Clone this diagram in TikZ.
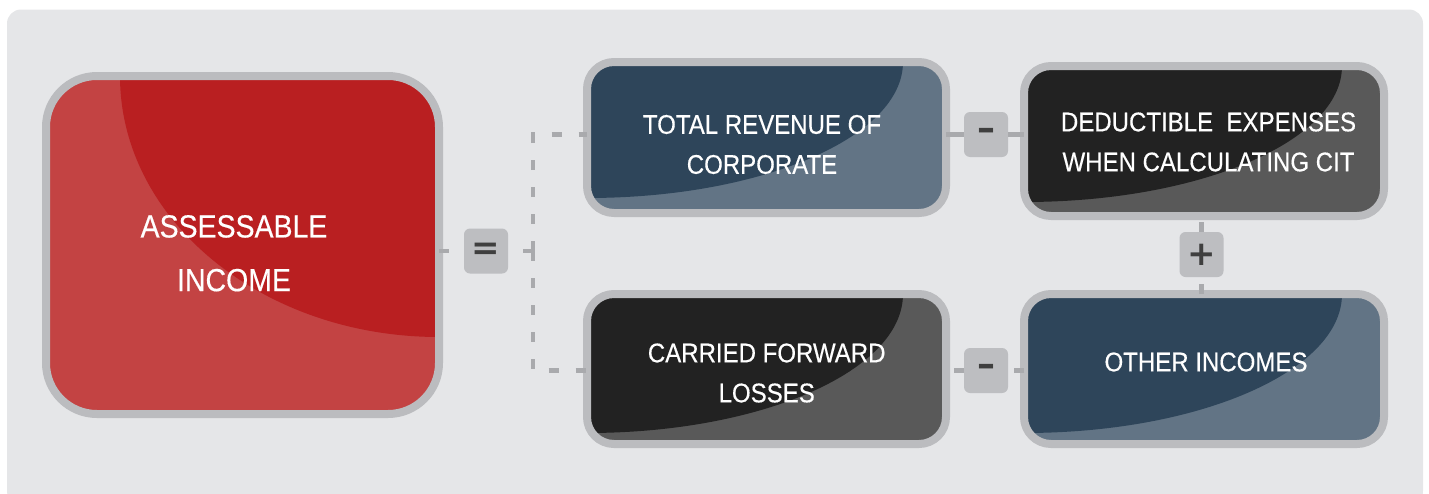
\documentclass[tikz,border=0pt]{standalone}
\usepackage{fontspec}
\setmainfont[FakeStretch=0.89, FakeBold=0.35]{Liberation Sans}
\newfontfamily\opfont{DejaVu Sans}
\usetikzlibrary{calc}

\definecolor{panelgray}{HTML}{E5E6E8}
\definecolor{rimgray}{HTML}{BBBCBF}
\definecolor{opgray}{HTML}{BDBEC1}
\definecolor{opsign}{HTML}{3F3F3F}
\definecolor{linkgray}{HTML}{A9AAAD}
\definecolor{reddark}{HTML}{B91F21}
\definecolor{redlight}{HTML}{C34343}
\definecolor{navydark}{HTML}{2E455A}
\definecolor{navylight}{HTML}{627485}
\definecolor{inkdark}{HTML}{222222}
\definecolor{inklight}{HTML}{595959}

\tikzset{
  card/.style={draw=rimgray, line width=8pt, inner sep=0pt, outer sep=0pt,
    rounded corners=27pt},
  % light base colour, darker sweep centred on one corner
  sweepNW/.style n args={4}{fill=#2, path picture={
      \fill[#1] (path picture bounding box.north west)
        ellipse [x radius=#3, y radius=#4];}},
  sweepNE/.style n args={4}{fill=#2, path picture={
      \fill[#1] (path picture bounding box.north east)
        ellipse [x radius=#3, y radius=#4];}},
  opbox/.style={fill=opgray, rounded corners=6pt, inner sep=0pt, outer sep=0pt,
    minimum width=44pt, minimum height=45pt, text=opsign,
    font=\opfont\bfseries\fontsize{34}{34}\selectfont},
  minusbox/.style={opbox, font=\opfont\bfseries\fontsize{36}{36}\selectfont},
  lbl/.style={text=white, align=center, inner sep=0pt,
    font=\fontsize{27}{40}\selectfont},
  link/.style={draw=linkgray, line width=4.5pt, dash pattern=on 10pt off 17pt},
  linksolid/.style={draw=linkgray, line width=4.5pt},
}

\begin{document}
\begin{tikzpicture}[x=1pt, y=-1pt]
\useasboundingbox (0,0) rectangle (1429,493);
\fill[panelgray, rounded corners=14pt] (7,9.5) rectangle (1423,505);

% result box
\node[card, rounded corners=51pt, minimum width=393pt, minimum height=338pt,
  sweepNE={reddark}{redlight}{319pt}{261pt}] (red) at (242.5,245) {};

% terms
\node[card, minimum width=359pt, minimum height=151pt,
  sweepNW={navydark}{navylight}{316pt}{136pt}] (rev) at (766.5,137.5) {};
\node[card, minimum width=360pt, minimum height=150pt,
  sweepNW={inkdark}{inklight}{318pt}{136pt}] (ded) at (1204,141) {};
\node[card, minimum width=359pt, minimum height=150pt,
  sweepNW={inkdark}{inklight}{316pt}{139pt}] (loss) at (766.5,369) {};
\node[card, minimum width=360pt, minimum height=150pt,
  sweepNW={navydark}{navylight}{318pt}{139pt}] (oth) at (1204,369) {};

% labels
\node[lbl, font=\fontsize{32}{53.7}\selectfont] (tred) at (234,253.3) {ASSESSABLE\\INCOME};
\node[lbl] (trev) at (762,144.5) {TOTAL REVENUE OF\\CORPORATE};
\node[lbl] (tded) at (1208.5,142) {DEDUCTIBLE\ \ EXPENSES\\WHEN CALCULATING CIT};
\node[lbl] (tloss) at (766.7,373) {CARRIED FORWARD\\LOSSES};
\node[lbl] (toth) at (1206,362) {OTHER INCOMES};

% operators
\node[opbox] (eq) at (486,251) {=};
\node[minusbox] (m1) at (986,134.5) {–};
\node[minusbox] (m2) at (986,370.5) {–};
\node[opbox] (pl) at (1201.5,254.5) {+};

% connectors
\coordinate (jn) at (533,251);
\draw[link] (red.east |- eq) -- (eq.west);
\draw[link] (jn) -- (eq.east);
\draw[link] (jn) |- (rev.west |- m1);
\draw[link] (jn) |- (loss.west |- m2);
\draw[linksolid] (rev.east |- m1) -- (m1.west);
\draw[linksolid] (m1.east) -- (ded.west |- m1);
\draw[link] (m2.west) -- (loss.east |- m2);
\draw[link] (oth.west |- m2) -- (m2.east);
\draw[link] (pl.north) -- (ded.south -| pl);
\draw[link] (oth.north -| pl) -- (pl.south);
\end{tikzpicture}
\end{document}
